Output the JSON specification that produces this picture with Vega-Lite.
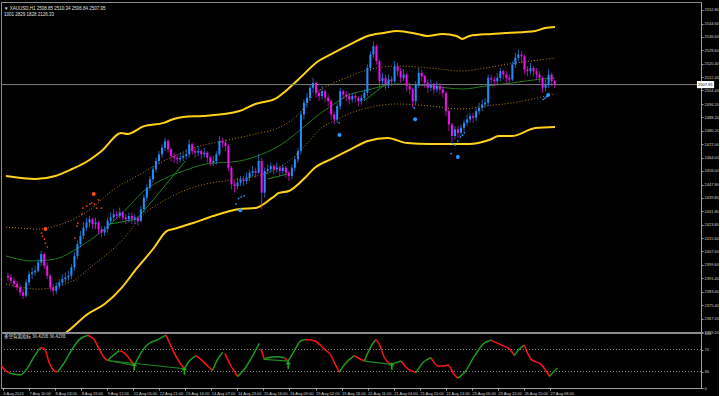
{
  "$schema": "https://vega.github.io/schema/vega-lite/v6.json",
  "background": "#000000",
  "padding": {"left": 0, "top": 1, "right": 0, "bottom": 0},
  "spacing": 1,
  "bounds": "flush",
  "resolve": {"scale": {"color": "independent", "size": "independent"}},
  "config": {
    "view": {"stroke": "#8c8c8c", "strokeWidth": 1},
    "font": "Liberation Sans",
    "axis": {"labelFont": "Liberation Sans", "labelFontSize": 4, "labelColor": "#d0d0d0", "tickColor": "#a0a0a0", "domainColor": "#a0a0a0", "tickSize": 2, "labelPadding": 1, "grid": false, "labelOverlap": false, "labelFlush": false}
  },
  "datasets": {
    "candles": [
      {"b":0,"o":2393,"h":2395,"l":2390,"c":2392},{"b":2,"o":2392,"h":2394,"l":2388,"c":2390},{"b":4,"o":2390,"h":2392,"l":2386,"c":2388},{"b":6,"o":2388,"h":2390,"l":2384,"c":2386},{"b":8,"o":2386,"h":2388,"l":2381,"c":2383},{"b":10,"o":2383,"h":2385,"l":2379,"c":2381},{"b":12,"o":2381,"h":2391,"l":2380,"c":2389},{"b":14,"o":2389,"h":2396,"l":2387,"c":2394},{"b":16,"o":2394,"h":2398,"l":2391,"c":2395},{"b":18,"o":2395,"h":2399,"l":2393,"c":2396},
      {"b":20,"o":2396,"h":2403,"l":2395,"c":2401},{"b":22,"o":2401,"h":2408,"l":2399,"c":2406},{"b":24,"o":2406,"h":2407,"l":2397,"c":2399},{"b":26,"o":2399,"h":2401,"l":2391,"c":2393},{"b":28,"o":2393,"h":2394,"l":2384,"c":2386},{"b":30,"o":2386,"h":2388,"l":2381,"c":2384},{"b":32,"o":2384,"h":2389,"l":2382,"c":2387},{"b":34,"o":2387,"h":2391,"l":2385,"c":2389},{"b":36,"o":2389,"h":2394,"l":2387,"c":2391},{"b":38,"o":2391,"h":2395,"l":2389,"c":2392},
      {"b":40,"o":2392,"h":2396,"l":2390,"c":2393},{"b":42,"o":2393,"h":2400,"l":2391,"c":2398},{"b":44,"o":2398,"h":2407,"l":2396,"c":2405},{"b":46,"o":2405,"h":2414,"l":2403,"c":2412},{"b":48,"o":2412,"h":2420,"l":2410,"c":2417},{"b":50,"o":2417,"h":2425,"l":2415,"c":2422},{"b":52,"o":2422,"h":2428,"l":2420,"c":2425},{"b":54,"o":2425,"h":2429,"l":2422,"c":2427},{"b":56,"o":2427,"h":2428,"l":2421,"c":2424},{"b":58,"o":2424,"h":2428,"l":2421,"c":2425},
      {"b":60,"o":2425,"h":2426,"l":2418,"c":2421},{"b":62,"o":2421,"h":2423,"l":2416,"c":2419},{"b":64,"o":2419,"h":2423,"l":2417,"c":2421},{"b":66,"o":2421,"h":2428,"l":2419,"c":2426},{"b":68,"o":2426,"h":2431,"l":2424,"c":2428},{"b":70,"o":2428,"h":2433,"l":2426,"c":2430},{"b":72,"o":2430,"h":2432,"l":2427,"c":2429},{"b":74,"o":2429,"h":2434,"l":2427,"c":2431},{"b":76,"o":2431,"h":2432,"l":2426,"c":2428},{"b":78,"o":2428,"h":2430,"l":2424,"c":2427},
      {"b":80,"o":2427,"h":2431,"l":2425,"c":2429},{"b":82,"o":2429,"h":2431,"l":2424,"c":2427},{"b":84,"o":2427,"h":2430,"l":2424,"c":2428},{"b":86,"o":2428,"h":2429,"l":2423,"c":2426},{"b":88,"o":2426,"h":2435,"l":2425,"c":2433},{"b":90,"o":2433,"h":2442,"l":2431,"c":2440},{"b":92,"o":2440,"h":2448,"l":2438,"c":2446},{"b":94,"o":2446,"h":2453,"l":2444,"c":2451},{"b":96,"o":2451,"h":2459,"l":2449,"c":2457},{"b":98,"o":2457,"h":2464,"l":2455,"c":2462},
      {"b":100,"o":2462,"h":2468,"l":2460,"c":2466},{"b":102,"o":2466,"h":2472,"l":2464,"c":2470},{"b":104,"o":2470,"h":2476,"l":2468,"c":2474},{"b":106,"o":2474,"h":2475,"l":2467,"c":2469},{"b":108,"o":2469,"h":2470,"l":2462,"c":2465},{"b":110,"o":2465,"h":2467,"l":2461,"c":2464},{"b":112,"o":2464,"h":2466,"l":2460,"c":2463},{"b":114,"o":2463,"h":2467,"l":2461,"c":2464},{"b":116,"o":2464,"h":2467,"l":2462,"c":2465},{"b":118,"o":2465,"h":2469,"l":2463,"c":2466},
      {"b":120,"o":2466,"h":2475,"l":2464,"c":2472},{"b":122,"o":2472,"h":2473,"l":2466,"c":2468},{"b":124,"o":2468,"h":2470,"l":2464,"c":2467},{"b":126,"o":2467,"h":2471,"l":2465,"c":2468},{"b":128,"o":2468,"h":2469,"l":2463,"c":2466},{"b":130,"o":2466,"h":2470,"l":2464,"c":2467},{"b":132,"o":2467,"h":2468,"l":2461,"c":2464},{"b":134,"o":2464,"h":2465,"l":2459,"c":2461},{"b":136,"o":2461,"h":2465,"l":2459,"c":2462},{"b":138,"o":2462,"h":2468,"l":2460,"c":2466},
      {"b":140,"o":2466,"h":2477,"l":2465,"c":2474},{"b":142,"o":2474,"h":2476,"l":2470,"c":2473},{"b":144,"o":2473,"h":2475,"l":2468,"c":2471},{"b":146,"o":2471,"h":2472,"l":2456,"c":2458},{"b":148,"o":2458,"h":2459,"l":2445,"c":2448},{"b":150,"o":2448,"h":2450,"l":2443,"c":2447},{"b":152,"o":2447,"h":2452,"l":2445,"c":2449},{"b":154,"o":2449,"h":2453,"l":2447,"c":2451},{"b":156,"o":2451,"h":2453,"l":2447,"c":2450},{"b":158,"o":2450,"h":2455,"l":2448,"c":2452},
      {"b":160,"o":2452,"h":2457,"l":2450,"c":2455},{"b":162,"o":2455,"h":2459,"l":2453,"c":2456},{"b":164,"o":2456,"h":2458,"l":2452,"c":2455},{"b":166,"o":2455,"h":2466,"l":2454,"c":2462},{"b":168,"o":2462,"h":2464,"l":2433,"c":2443},{"b":170,"o":2443,"h":2458,"l":2440,"c":2456},{"b":172,"o":2456,"h":2460,"l":2454,"c":2457},{"b":174,"o":2457,"h":2461,"l":2455,"c":2459},{"b":176,"o":2459,"h":2460,"l":2454,"c":2457},{"b":178,"o":2457,"h":2461,"l":2455,"c":2458},
      {"b":180,"o":2458,"h":2459,"l":2453,"c":2456},{"b":182,"o":2456,"h":2460,"l":2454,"c":2458},{"b":184,"o":2458,"h":2459,"l":2452,"c":2455},{"b":186,"o":2455,"h":2456,"l":2450,"c":2453},{"b":188,"o":2453,"h":2460,"l":2451,"c":2458},{"b":190,"o":2458,"h":2465,"l":2456,"c":2463},{"b":192,"o":2463,"h":2470,"l":2461,"c":2468},{"b":194,"o":2468,"h":2492,"l":2466,"c":2490},{"b":196,"o":2490,"h":2499,"l":2487,"c":2497},{"b":198,"o":2497,"h":2503,"l":2494,"c":2500},
      {"b":200,"o":2500,"h":2508,"l":2498,"c":2506},{"b":202,"o":2506,"h":2512,"l":2503,"c":2509},{"b":204,"o":2509,"h":2510,"l":2500,"c":2503},{"b":206,"o":2503,"h":2505,"l":2498,"c":2501},{"b":208,"o":2501,"h":2507,"l":2499,"c":2504},{"b":210,"o":2504,"h":2505,"l":2497,"c":2500},{"b":212,"o":2500,"h":2502,"l":2495,"c":2498},{"b":214,"o":2498,"h":2499,"l":2487,"c":2490},{"b":216,"o":2490,"h":2492,"l":2484,"c":2487},{"b":218,"o":2487,"h":2497,"l":2485,"c":2495},
      {"b":220,"o":2495,"h":2506,"l":2493,"c":2504},{"b":222,"o":2504,"h":2505,"l":2499,"c":2502},{"b":224,"o":2502,"h":2504,"l":2498,"c":2501},{"b":226,"o":2501,"h":2503,"l":2496,"c":2499},{"b":228,"o":2499,"h":2503,"l":2497,"c":2501},{"b":230,"o":2501,"h":2503,"l":2497,"c":2500},{"b":232,"o":2500,"h":2501,"l":2495,"c":2498},{"b":234,"o":2498,"h":2502,"l":2496,"c":2500},{"b":236,"o":2500,"h":2505,"l":2498,"c":2503},{"b":238,"o":2503,"h":2520,"l":2501,"c":2518},
      {"b":240,"o":2518,"h":2528,"l":2516,"c":2526},{"b":242,"o":2526,"h":2534,"l":2524,"c":2531},{"b":244,"o":2531,"h":2532,"l":2520,"c":2522},{"b":246,"o":2522,"h":2523,"l":2506,"c":2510},{"b":248,"o":2510,"h":2515,"l":2508,"c":2512},{"b":250,"o":2512,"h":2514,"l":2505,"c":2508},{"b":252,"o":2508,"h":2514,"l":2506,"c":2511},{"b":254,"o":2511,"h":2513,"l":2507,"c":2510},{"b":256,"o":2510,"h":2522,"l":2509,"c":2519},{"b":258,"o":2519,"h":2521,"l":2513,"c":2516},
      {"b":260,"o":2516,"h":2518,"l":2509,"c":2512},{"b":262,"o":2512,"h":2517,"l":2510,"c":2514},{"b":264,"o":2514,"h":2515,"l":2504,"c":2507},{"b":266,"o":2507,"h":2509,"l":2502,"c":2505},{"b":268,"o":2505,"h":2506,"l":2494,"c":2498},{"b":270,"o":2498,"h":2510,"l":2496,"c":2508},{"b":272,"o":2508,"h":2518,"l":2506,"c":2515},{"b":274,"o":2515,"h":2517,"l":2510,"c":2513},{"b":276,"o":2513,"h":2514,"l":2506,"c":2509},{"b":278,"o":2509,"h":2511,"l":2503,"c":2506},
      {"b":280,"o":2506,"h":2511,"l":2504,"c":2508},{"b":282,"o":2508,"h":2509,"l":2502,"c":2505},{"b":284,"o":2505,"h":2510,"l":2503,"c":2507},{"b":286,"o":2507,"h":2509,"l":2502,"c":2505},{"b":288,"o":2505,"h":2507,"l":2500,"c":2503},{"b":290,"o":2503,"h":2504,"l":2489,"c":2492},{"b":292,"o":2492,"h":2493,"l":2480,"c":2484},{"b":294,"o":2484,"h":2485,"l":2473,"c":2477},{"b":296,"o":2477,"h":2483,"l":2475,"c":2481},{"b":298,"o":2481,"h":2483,"l":2476,"c":2479},
      {"b":300,"o":2479,"h":2484,"l":2477,"c":2482},{"b":302,"o":2482,"h":2487,"l":2480,"c":2485},{"b":304,"o":2485,"h":2490,"l":2483,"c":2487},{"b":306,"o":2487,"h":2491,"l":2485,"c":2489},{"b":308,"o":2489,"h":2491,"l":2485,"c":2488},{"b":310,"o":2488,"h":2494,"l":2486,"c":2492},{"b":312,"o":2492,"h":2497,"l":2490,"c":2494},{"b":314,"o":2494,"h":2499,"l":2492,"c":2496},{"b":316,"o":2496,"h":2500,"l":2494,"c":2497},{"b":318,"o":2497,"h":2514,"l":2495,"c":2512},
      {"b":320,"o":2512,"h":2514,"l":2508,"c":2511},{"b":322,"o":2511,"h":2513,"l":2507,"c":2510},{"b":324,"o":2510,"h":2515,"l":2508,"c":2512},{"b":326,"o":2512,"h":2518,"l":2510,"c":2516},{"b":328,"o":2516,"h":2517,"l":2511,"c":2514},{"b":330,"o":2514,"h":2516,"l":2509,"c":2512},{"b":332,"o":2512,"h":2514,"l":2508,"c":2511},{"b":334,"o":2511,"h":2522,"l":2510,"c":2520},{"b":336,"o":2520,"h":2527,"l":2518,"c":2524},{"b":338,"o":2524,"h":2529,"l":2522,"c":2526},
      {"b":340,"o":2526,"h":2528,"l":2521,"c":2525},{"b":342,"o":2525,"h":2526,"l":2514,"c":2517},{"b":344,"o":2517,"h":2519,"l":2513,"c":2516},{"b":346,"o":2516,"h":2521,"l":2514,"c":2518},{"b":348,"o":2518,"h":2519,"l":2513,"c":2516},{"b":350,"o":2516,"h":2518,"l":2511,"c":2514},{"b":352,"o":2514,"h":2516,"l":2509,"c":2512},{"b":354,"o":2512,"h":2513,"l":2503,"c":2506},{"b":356,"o":2506,"h":2511,"l":2504,"c":2508},{"b":358,"o":2508,"h":2517,"l":2506,"c":2514},
      {"b":360,"o":2514,"h":2515,"l":2507,"c":2510},{"b":362,"o":2510,"h":2511,"l":2506,"c":2507.95}
    ],
    "bands": [
      {"s":"up","b":-1.3,"p":2453.0},{"s":"up","b":18.3,"p":2451.2},{"s":"up","b":31.3,"p":2453.0},{"s":"up","b":42.4,"p":2457.2},{"s":"up","b":52.9,"p":2462.0},{"s":"up","b":62,"p":2468.0},{"s":"up","b":75.1,"p":2478.8},{"s":"up","b":79,"p":2478.2},{"s":"up","b":90.1,"p":2483.0},{"s":"up","b":103.1,"p":2484.9},{"s":"up","b":109.7,"p":2487.3},{"s":"up","b":116.2,"p":2488.5},{"s":"up","b":129.2,"p":2489.1},{"s":"up","b":153.4,"p":2492.1},{"s":"up","b":163.8,"p":2496.3},{"s":"up","b":176.9,"p":2499.3},{"s":"up","b":181.5,"p":2502.3},{"s":"up","b":192.6,"p":2511.3},{"s":"up","b":205.6,"p":2522.1},{"s":"up","b":214.1,"p":2526.3},{"s":"up","b":227.2,"p":2532.4},{"s":"up","b":238.3,"p":2537.2},{"s":"up","b":248.7,"p":2539.0},{"s":"up","b":257.8,"p":2540.2},{"s":"up","b":270.9,"p":2538.4},{"s":"up","b":277.4,"p":2537.2},{"s":"up","b":287.9,"p":2538.4},{"s":"up","b":297,"p":2537.2},{"s":"up","b":300.9,"p":2535.4},{"s":"up","b":305.5,"p":2537.2},{"s":"up","b":320.5,"p":2538.4},{"s":"up","b":329.6,"p":2539.0},{"s":"up","b":349.2,"p":2540.2},{"s":"up","b":355.7,"p":2542.0},{"s":"up","b":362.2,"p":2542.6},
      {"s":"lo","b":-1.3,"p":2357},{"s":"lo","b":10,"p":2354},{"s":"lo","b":20,"p":2352},{"s":"lo","b":31.3,"p":2354},{"s":"lo","b":39.8,"p":2359.8},{"s":"lo","b":52.9,"p":2370.0},{"s":"lo","b":64,"p":2376.0},{"s":"lo","b":75.1,"p":2385.6},{"s":"lo","b":85.5,"p":2397.7},{"s":"lo","b":96.6,"p":2409.7},{"s":"lo","b":105.1,"p":2419.9},{"s":"lo","b":109.7,"p":2421.1},{"s":"lo","b":116.2,"p":2422.9},{"s":"lo","b":122.7,"p":2424.7},{"s":"lo","b":135.8,"p":2428.9},{"s":"lo","b":153.4,"p":2433.1},{"s":"lo","b":163.8,"p":2433.7},{"s":"lo","b":174.9,"p":2439.8},{"s":"lo","b":179.5,"p":2442.8},{"s":"lo","b":186,"p":2444.0},{"s":"lo","b":196.5,"p":2451.8},{"s":"lo","b":203,"p":2457.8},{"s":"lo","b":214.1,"p":2463.2},{"s":"lo","b":227.2,"p":2469.2},{"s":"lo","b":238.3,"p":2474.0},{"s":"lo","b":251.3,"p":2475.8},{"s":"lo","b":264.4,"p":2472.8},{"s":"lo","b":279.4,"p":2472.2},{"s":"lo","b":292.4,"p":2472.2},{"s":"lo","b":305.5,"p":2472.2},{"s":"lo","b":318.5,"p":2474.6},{"s":"lo","b":325.1,"p":2477.0},{"s":"lo","b":333.6,"p":2477.0},{"s":"lo","b":349.2,"p":2481.8},{"s":"lo","b":362.2,"p":2482.4},
      {"s":"ui","b":-1.3,"p":2422.3},{"s":"ui","b":20.2,"p":2421.1},{"s":"ui","b":31.3,"p":2422.9},{"s":"ui","b":52.9,"p":2431.9},{"s":"ui","b":70.5,"p":2445.2},{"s":"ui","b":85.5,"p":2453.0},{"s":"ui","b":103.1,"p":2462.0},{"s":"ui","b":116.2,"p":2467.4},{"s":"ui","b":122.7,"p":2469.8},{"s":"ui","b":142.3,"p":2474.0},{"s":"ui","b":163.8,"p":2478.2},{"s":"ui","b":181.5,"p":2483.0},{"s":"ui","b":192.6,"p":2490.3},{"s":"ui","b":203,"p":2502.3},{"s":"ui","b":214.1,"p":2508.3},{"s":"ui","b":227.2,"p":2513.1},{"s":"ui","b":235.6,"p":2516.1},{"s":"ui","b":257.8,"p":2519.1},{"s":"ui","b":279.4,"p":2517.9},{"s":"ui","b":300.9,"p":2516.1},{"s":"ui","b":312,"p":2517.3},{"s":"ui","b":331.6,"p":2520.3},{"s":"ui","b":362.2,"p":2523.9},
      {"s":"li","b":-1.3,"p":2388.0},{"s":"li","b":20.2,"p":2385.0},{"s":"li","b":42.4,"p":2389.8},{"s":"li","b":57.4,"p":2400.1},{"s":"li","b":75.1,"p":2413.9},{"s":"li","b":90.1,"p":2430.1},{"s":"li","b":103.1,"p":2438.0},{"s":"li","b":116.2,"p":2444.0},{"s":"li","b":131.2,"p":2448.2},{"s":"li","b":153.4,"p":2451.2},{"s":"li","b":174.9,"p":2456.0},{"s":"li","b":186,"p":2462.0},{"s":"li","b":196.5,"p":2471.0},{"s":"li","b":207.6,"p":2481.8},{"s":"li","b":218.7,"p":2487.3},{"s":"li","b":227.2,"p":2490.9},{"s":"li","b":235.6,"p":2493.3},{"s":"li","b":257.8,"p":2496.3},{"s":"li","b":279.4,"p":2495.1},{"s":"li","b":300.9,"p":2493.3},{"s":"li","b":316.6,"p":2495.1},{"s":"li","b":333.6,"p":2496.9},{"s":"li","b":362.2,"p":2502.3},
      {"s":"mid","b":-1.3,"p":2404.9},{"s":"mid","b":16.3,"p":2401.9},{"s":"mid","b":31.3,"p":2403.1},{"s":"mid","b":46.3,"p":2409.7},{"s":"mid","b":64,"p":2421.1},{"s":"mid","b":77,"p":2431.9},{"s":"mid","b":90.1,"p":2444.0},{"s":"mid","b":103.1,"p":2451.2},{"s":"mid","b":116.2,"p":2456.0},{"s":"mid","b":131.2,"p":2460.2},{"s":"mid","b":153.4,"p":2462.0},{"s":"mid","b":168.4,"p":2466.2},{"s":"mid","b":181.5,"p":2472.2},{"s":"mid","b":192.6,"p":2480.0},{"s":"mid","b":203,"p":2487.9},{"s":"mid","b":214.1,"p":2495.1},{"s":"mid","b":227.2,"p":2502.3},{"s":"mid","b":235.6,"p":2504.1},{"s":"mid","b":257.8,"p":2508.3},{"s":"mid","b":279.4,"p":2507.1},{"s":"mid","b":300.9,"p":2505.3},{"s":"mid","b":316.6,"p":2507.1},{"s":"mid","b":333.6,"p":2508.9},{"s":"mid","b":353.1,"p":2511.3},{"s":"mid","b":362.2,"p":2511.9}
    ],
    "divp": [
      {"g":"A","b":66,"p":2423.9},{"g":"A","b":85.5,"p":2427.1},
      {"g":"B","b":85.5,"p":2427.1},{"g":"B","b":117.5,"p":2462.0},
      {"g":"C","b":172,"p":2451.2},{"g":"C","b":185,"p":2454.2},
      {"g":"D","b":235.6,"p":2498.1},{"g":"D","b":254.6,"p":2511.3}
    ],
    "dots": [
      {"k":"o","z":"L","b":24.8,"p":2421.1},{"k":"o","z":"s","b":22.2,"p":2418.7},{"k":"o","z":"s","b":22.8,"p":2416.9},{"k":"o","z":"s","b":24.2,"p":2415.1},{"k":"o","z":"s","b":24.8,"p":2412.7},{"k":"o","z":"s","b":26.1,"p":2410.3},
      {"k":"o","z":"L","b":56.8,"p":2442.2},{"k":"o","z":"s","b":44.4,"p":2415.7},{"k":"o","z":"s","b":45.7,"p":2422.9},{"k":"o","z":"s","b":46.3,"p":2424.7},{"k":"o","z":"s","b":49,"p":2430.1},{"k":"o","z":"s","b":49.6,"p":2433.7},{"k":"o","z":"s","b":52.2,"p":2434.9},{"k":"o","z":"s","b":54.2,"p":2436.1},{"k":"o","z":"s","b":55.5,"p":2436.7},{"k":"o","z":"s","b":57.4,"p":2436.1},{"k":"o","z":"s","b":58.7,"p":2433.7},{"k":"o","z":"s","b":60.1,"p":2438.6},{"k":"o","z":"s","b":62,"p":2433.7},
      {"k":"b","z":"L","b":153.8,"p":2432.4},{"k":"b","z":"s","b":151,"p":2436.3},{"k":"b","z":"s","b":152.7,"p":2439.5},{"k":"b","z":"s","b":154.5,"p":2440.4},{"k":"b","z":"s","b":156.5,"p":2441.0},
      {"k":"b","z":"L","b":219.5,"p":2477.6},{"k":"b","z":"s","b":219.3,"p":2485.0},
      {"k":"b","z":"L","b":269.6,"p":2487.1},{"k":"b","z":"s","b":269,"p":2493.9},
      {"k":"b","z":"L","b":297.9,"p":2464.4},{"k":"b","z":"s","b":293.5,"p":2466.4},{"k":"b","z":"s","b":294.6,"p":2472.4},{"k":"b","z":"s","b":296.3,"p":2471.6},{"k":"b","z":"s","b":297.9,"p":2474.0},{"k":"b","z":"s","b":299.6,"p":2476.4},{"k":"b","z":"s","b":301.1,"p":2477.6},{"k":"b","z":"s","b":302.2,"p":2479.0},
      {"k":"b","z":"L","b":357.7,"p":2501.7},{"k":"b","z":"s","b":354.4,"p":2499.1},{"k":"b","z":"s","b":355.5,"p":2499.7},{"k":"b","z":"s","b":356.6,"p":2500.5}
    ],
    "cur": [{"p":2507.95,"t":"2507.95"}],
    "osc": [
      {"g":1,"d":"r","b":-1.3,"v":41},{"g":1,"d":"r","b":2,"v":31},{"g":1,"d":"r","b":4.5,"v":27},
      {"g":2,"d":"g","b":4.5,"v":27},{"g":2,"d":"g","b":11.7,"v":24},{"g":2,"d":"g","b":16.1,"v":37},{"g":2,"d":"g","b":20.5,"v":58},{"g":2,"d":"g","b":24.4,"v":73},
      {"g":3,"d":"r","b":24.4,"v":73},{"g":3,"d":"r","b":27,"v":71},{"g":3,"d":"r","b":30.2,"v":46},{"g":3,"d":"r","b":33.5,"v":31},{"g":3,"d":"r","b":35.7,"v":29},
      {"g":4,"d":"g","b":35.7,"v":29},{"g":4,"d":"g","b":40,"v":46},{"g":4,"d":"g","b":44.4,"v":67},{"g":4,"d":"g","b":49.8,"v":88},{"g":4,"d":"g","b":55.3,"v":96},
      {"g":5,"d":"r","b":55.3,"v":96},{"g":5,"d":"r","b":59.6,"v":88},{"g":5,"d":"r","b":62.9,"v":70},{"g":5,"d":"r","b":66.1,"v":55},{"g":5,"d":"r","b":68.3,"v":50},
      {"g":6,"d":"g","b":68.3,"v":50},{"g":6,"d":"g","b":72.7,"v":61},{"g":6,"d":"g","b":75.9,"v":68},
      {"g":7,"d":"r","b":75.9,"v":68},{"g":7,"d":"r","b":79.2,"v":64},{"g":7,"d":"r","b":83.6,"v":49},{"g":7,"d":"r","b":85.7,"v":41},
      {"g":8,"d":"g","b":85.7,"v":41},{"g":8,"d":"g","b":90.1,"v":64},{"g":8,"d":"g","b":94.4,"v":79},{"g":8,"d":"g","b":101,"v":88},{"g":8,"d":"g","b":106.4,"v":96},
      {"g":9,"d":"r","b":106.4,"v":96},{"g":9,"d":"r","b":109.7,"v":76},{"g":9,"d":"r","b":114,"v":52},{"g":9,"d":"r","b":118.4,"v":35},
      {"g":10,"d":"g","b":118.4,"v":35},{"g":10,"d":"g","b":121.6,"v":49},{"g":10,"d":"g","b":126,"v":59},
      {"g":11,"d":"r","b":126,"v":59},{"g":11,"d":"r","b":129.2,"v":52},{"g":11,"d":"r","b":133.6,"v":40},{"g":11,"d":"r","b":136.8,"v":32},
      {"g":12,"d":"g","b":136.8,"v":32},{"g":12,"d":"g","b":140.1,"v":52},{"g":12,"d":"g","b":143.4,"v":65},
      {"g":13,"d":"r","b":144.8,"v":63},{"g":13,"d":"r","b":148.8,"v":40},{"g":13,"d":"r","b":153.2,"v":21},
      {"g":14,"d":"g","b":153.2,"v":21},{"g":14,"d":"g","b":157.5,"v":34},{"g":14,"d":"g","b":163,"v":59},{"g":14,"d":"g","b":167.3,"v":81},
      {"g":15,"d":"r","b":168.4,"v":71},{"g":15,"d":"r","b":170.6,"v":52},
      {"g":16,"d":"g","b":170.6,"v":52},{"g":16,"d":"g","b":172.8,"v":55},{"g":16,"d":"g","b":179.3,"v":57},{"g":16,"d":"g","b":183.6,"v":55},
      {"g":17,"d":"r","b":183.6,"v":55},{"g":17,"d":"r","b":186.2,"v":49},
      {"g":18,"d":"g","b":186.2,"v":49},{"g":18,"d":"g","b":190.2,"v":68},{"g":18,"d":"g","b":194.5,"v":86},{"g":18,"d":"g","b":197.8,"v":88},
      {"g":19,"d":"r","b":197.8,"v":88},{"g":19,"d":"r","b":203.2,"v":86},{"g":19,"d":"r","b":209.7,"v":71},{"g":19,"d":"r","b":214.1,"v":59},{"g":19,"d":"r","b":216.3,"v":46},{"g":19,"d":"r","b":219.5,"v":29},
      {"g":20,"d":"g","b":219.5,"v":29},{"g":20,"d":"g","b":223.9,"v":46},{"g":20,"d":"g","b":229.3,"v":59},
      {"g":21,"d":"r","b":229.3,"v":59},{"g":21,"d":"r","b":231.6,"v":55},{"g":21,"d":"r","b":235.9,"v":49},
      {"g":22,"d":"g","b":235.9,"v":49},{"g":22,"d":"g","b":240.3,"v":76},{"g":22,"d":"g","b":243.5,"v":88},
      {"g":23,"d":"r","b":243.5,"v":88},{"g":23,"d":"r","b":245.7,"v":79},{"g":23,"d":"r","b":249,"v":55},{"g":23,"d":"r","b":253.3,"v":43},
      {"g":24,"d":"g","b":253.3,"v":43},{"g":24,"d":"g","b":259.8,"v":49},
      {"g":25,"d":"r","b":259.8,"v":49},{"g":25,"d":"r","b":264.2,"v":35},{"g":25,"d":"r","b":269.6,"v":28},
      {"g":26,"d":"g","b":269.6,"v":28},{"g":26,"d":"g","b":274,"v":46},{"g":26,"d":"g","b":279.4,"v":55},
      {"g":27,"d":"r","b":279.4,"v":55},{"g":27,"d":"r","b":283.8,"v":40},{"g":27,"d":"r","b":288.1,"v":40},{"g":27,"d":"r","b":290.3,"v":42},{"g":27,"d":"r","b":294.7,"v":24},{"g":27,"d":"r","b":296.8,"v":18},
      {"g":28,"d":"g","b":296.8,"v":18},{"g":28,"d":"g","b":301.2,"v":28},{"g":28,"d":"g","b":307.7,"v":58},{"g":28,"d":"g","b":314.2,"v":82},{"g":28,"d":"g","b":318.6,"v":87},
      {"g":29,"d":"r","b":318.6,"v":87},{"g":29,"d":"r","b":320.8,"v":84},{"g":29,"d":"r","b":326.2,"v":77},{"g":29,"d":"r","b":330.6,"v":71},{"g":29,"d":"r","b":333.8,"v":59},
      {"g":30,"d":"g","b":333.8,"v":59},{"g":30,"d":"g","b":337.1,"v":71},{"g":30,"d":"g","b":340.3,"v":78},
      {"g":31,"d":"r","b":340.3,"v":78},{"g":31,"d":"r","b":344.7,"v":52},{"g":31,"d":"r","b":351.2,"v":43},{"g":31,"d":"r","b":356.7,"v":21},
      {"g":32,"d":"g","b":356.7,"v":21},{"g":32,"d":"g","b":359.9,"v":31},{"g":32,"d":"g","b":362.1,"v":36.4298}
    ],
    "divo": [
      {"g":"A","b":68.3,"v":50},{"g":"A","b":85.7,"v":41},
      {"g":"B","b":68.3,"v":50},{"g":"B","b":118.4,"v":35},
      {"g":"C","b":170.6,"v":52},{"g":"C","b":186.2,"v":49},
      {"g":"D","b":235.9,"v":49},{"g":"D","b":253.3,"v":43}
    ],
    "arrows": [
      {"b":85.7,"v":39},{"b":118.4,"v":31},{"b":186.2,"v":42},{"b":253.8,"v":40}
    ],
    "levels": [{"v":70},{"v":30}]
  },
  "vconcat": [
    {
      "width": 700,
      "height": 330,
      "title": {"text": ["▼ XAUUSD,H1  2508.85 2510.34 2506.84 2507.95", "1001 2829 1828 2126.33"], "anchor": "start", "frame": "group", "orient": "top", "offset": -14, "fontSize": 4.5, "fontWeight": "normal", "color": "#e0e0e0", "lineHeight": 6, "dx": 3, "font": "Liberation Sans"},
      "layer": [
        {
          "data": {"name": "bands"},
          "transform": [{"filter": "datum.s === 'up' || datum.s === 'lo'"}],
          "mark": {"type": "line", "interpolate": "monotone", "color": "#ffd21a", "strokeWidth": 2, "clip": true},
          "encoding": {
            "x": {"field": "b", "type": "quantitative", "scale": {"domain": [-1.3, 455.6], "nice": false, "zero": false}, "axis": null},
            "y": {"field": "p", "type": "quantitative", "scale": {"domain": [2359.2, 2557.6], "nice": false, "zero": false},
                  "axis": {"orient": "right", "title": null, "format": ".2f", "tickCount": 200, "labelOverlap": false, "values": [2359.2,2367.2,2375.4,2383.4,2391.4,2399.6,2407.6,2415.6,2423.8,2431.8,2439.8,2447.8,2456,2464,2472,2480.2,2488.2,2496.2,2504.4,2512.4,2520.4,2528.6,2536.6,2544.6,2552.8]}},
            "detail": {"field": "s"}
          }
        },
        {
          "data": {"name": "bands"},
          "transform": [{"filter": "datum.s === 'ui' || datum.s === 'li'"}],
          "mark": {"type": "line", "interpolate": "monotone", "color": "#b8821e", "strokeWidth": 1, "strokeDash": [1, 2], "clip": true},
          "encoding": {
            "x": {"field": "b", "type": "quantitative", "scale": {"domain": [-1.3, 455.6], "nice": false, "zero": false}, "axis": null},
            "y": {"field": "p", "type": "quantitative", "title": null, "scale": {"domain": [2359.2, 2557.6], "nice": false, "zero": false}},
            "detail": {"field": "s"}
          }
        },
        {
          "data": {"name": "bands"},
          "transform": [{"filter": "datum.s === 'mid'"}],
          "mark": {"type": "line", "interpolate": "monotone", "color": "#1e7a1e", "strokeWidth": 1, "clip": true},
          "encoding": {
            "x": {"field": "b", "type": "quantitative", "scale": {"domain": [-1.3, 455.6], "nice": false, "zero": false}, "axis": null},
            "y": {"field": "p", "type": "quantitative", "title": null, "scale": {"domain": [2359.2, 2557.6], "nice": false, "zero": false}}
          }
        },
        {
          "data": {"name": "divp"},
          "mark": {"type": "line", "color": "#1f8a1f", "strokeWidth": 1, "clip": true},
          "encoding": {
            "x": {"field": "b", "type": "quantitative", "scale": {"domain": [-1.3, 455.6], "nice": false, "zero": false}, "axis": null},
            "y": {"field": "p", "type": "quantitative", "title": null, "scale": {"domain": [2359.2, 2557.6], "nice": false, "zero": false}},
            "detail": {"field": "g"}
          }
        },
        {
          "data": {"name": "cur"},
          "mark": {"type": "rule", "color": "#7c7c7c", "strokeWidth": 1},
          "encoding": {
            "y": {"field": "p", "type": "quantitative", "title": null, "scale": {"domain": [2359.2, 2557.6], "nice": false, "zero": false}}
          }
        },
        {
          "data": {"name": "candles"},
          "mark": {"type": "rule", "strokeWidth": 1, "opacity": 0.7, "clip": true},
          "encoding": {
            "x": {"field": "b", "type": "quantitative", "scale": {"domain": [-1.3, 455.6], "nice": false, "zero": false}, "axis": null},
            "y": {"field": "l", "type": "quantitative", "title": null, "scale": {"domain": [2359.2, 2557.6], "nice": false, "zero": false}},
            "y2": {"field": "h"},
            "color": {"condition": {"test": "datum.c >= datum.o", "value": "#1e8fff"}, "value": "#f010f0"}
          }
        },
        {
          "data": {"name": "candles"},
          "mark": {"type": "bar", "size": 2, "clip": true},
          "encoding": {
            "x": {"field": "b", "type": "quantitative", "scale": {"domain": [-1.3, 455.6], "nice": false, "zero": false}, "axis": null},
            "y": {"field": "o", "type": "quantitative", "title": null, "scale": {"domain": [2359.2, 2557.6], "nice": false, "zero": false}},
            "y2": {"field": "c"},
            "color": {"condition": {"test": "datum.c >= datum.o", "value": "#1e8fff"}, "value": "#f010f0"}
          }
        },
        {
          "data": {"name": "dots"},
          "mark": {"type": "point", "filled": true, "opacity": 1, "clip": true},
          "encoding": {
            "x": {"field": "b", "type": "quantitative", "scale": {"domain": [-1.3, 455.6], "nice": false, "zero": false}, "axis": null},
            "y": {"field": "p", "type": "quantitative", "title": null, "scale": {"domain": [2359.2, 2557.6], "nice": false, "zero": false}},
            "color": {"field": "k", "type": "nominal", "scale": {"domain": ["o", "b"], "range": ["#ff4a0a", "#2a96ff"]}, "legend": null},
            "size": {"field": "z", "type": "nominal", "scale": {"domain": ["s", "L"], "range": [3, 16]}, "legend": null}
          }
        },
        {
          "data": {"name": "cur"},
          "mark": {"type": "rect", "fill": "#ffffff", "clip": false},
          "encoding": {
            "x": {"datum": 456.2, "type": "quantitative", "scale": {"domain": [-1.3, 455.6], "nice": false, "zero": false}, "axis": null},
            "x2": {"datum": 467.6},
            "y": {"datum": 2510.1, "type": "quantitative", "scale": {"domain": [2359.2, 2557.6], "nice": false, "zero": false}},
            "y2": {"datum": 2505.8}
          }
        },
        {
          "data": {"name": "cur"},
          "mark": {"type": "text", "align": "left", "baseline": "middle", "fontSize": 4, "color": "#000000", "clip": false, "font": "Liberation Sans"},
          "encoding": {
            "x": {"datum": 457.0, "type": "quantitative", "scale": {"domain": [-1.3, 455.6], "nice": false, "zero": false}, "axis": null},
            "y": {"field": "p", "type": "quantitative", "title": null, "scale": {"domain": [2359.2, 2557.6], "nice": false, "zero": false}},
            "text": {"field": "t"}
          }
        }
      ]
    },
    {
      "width": 700,
      "height": 55,
      "title": {"text": "多空背离指标 36.4298 36.4298", "anchor": "start", "frame": "group", "orient": "top", "offset": -7, "fontSize": 4.5, "fontWeight": "normal", "color": "#e0e0e0", "dx": 3, "font": "Noto Sans CJK SC"},
      "layer": [
        {
          "data": {"name": "levels"},
          "mark": {"type": "rule", "color": "#808080", "strokeWidth": 1, "strokeDash": [1, 2]},
          "encoding": {
            "y": {"field": "v", "type": "quantitative", "scale": {"domain": [0, 100], "nice": false, "zero": false},
                  "axis": {"orient": "right", "title": null, "values": [0, 30, 70, 100], "tickCount": 50, "format": "d", "labelOverlap": false}}
          }
        },
        {
          "data": {"name": "osc"},
          "mark": {"type": "line", "interpolate": "monotone", "strokeWidth": 1.5, "clip": true},
          "encoding": {
            "x": {"field": "b", "type": "quantitative", "scale": {"domain": [-1.3, 455.6], "nice": false, "zero": false},
                  "axis": {"orient": "bottom", "title": null, "tickCount": 200, "labelOverlap": false, "labelBound": false, "labelFlush": false, "values": [0,17,34,51,68,85,102,119,136,153,170,187,204,221,238,255,272,289,306,323,340,357], "labelAlign": "left",
                           "labelExpr": "['6 Aug 2024','7 Aug 10:00','8 Aug 03:00','8 Aug 19:00','9 Aug 12:00','12 Aug 05:00','12 Aug 21:00','13 Aug 14:00','14 Aug 07:00','14 Aug 23:00','15 Aug 16:00','16 Aug 09:00','19 Aug 02:00','19 Aug 18:00','20 Aug 11:00','21 Aug 04:00','21 Aug 20:00','22 Aug 13:00','23 Aug 06:00','23 Aug 22:00','26 Aug 15:00','27 Aug 08:00'][round(datum.value / 17)]"}},
            "y": {"field": "v", "type": "quantitative", "title": null, "scale": {"domain": [0, 100], "nice": false, "zero": false}},
            "color": {"field": "d", "type": "nominal", "scale": {"domain": ["g", "r"], "range": ["#1c9a1c", "#ff1414"]}, "legend": null},
            "detail": {"field": "g"}
          }
        },
        {
          "data": {"name": "divo"},
          "mark": {"type": "line", "color": "#1f8a1f", "strokeWidth": 1.2, "clip": true},
          "encoding": {
            "x": {"field": "b", "type": "quantitative", "scale": {"domain": [-1.3, 455.6], "nice": false, "zero": false}},
            "y": {"field": "v", "type": "quantitative", "title": null, "scale": {"domain": [0, 100], "nice": false, "zero": false}},
            "detail": {"field": "g"}
          }
        },
        {
          "data": {"name": "arrows"},
          "mark": {"type": "point", "filled": true, "color": "#22aa22", "opacity": 1, "size": 60, "shape": "M0,-1L-0.75,-0.15L-0.22,-0.15L-0.22,1L0.22,1L0.22,-0.15L0.75,-0.15Z"},
          "encoding": {
            "x": {"field": "b", "type": "quantitative", "scale": {"domain": [-1.3, 455.6], "nice": false, "zero": false}},
            "y": {"field": "v", "type": "quantitative", "title": null, "scale": {"domain": [0, 100], "nice": false, "zero": false}}
          }
        }
      ]
    }
  ]
}
